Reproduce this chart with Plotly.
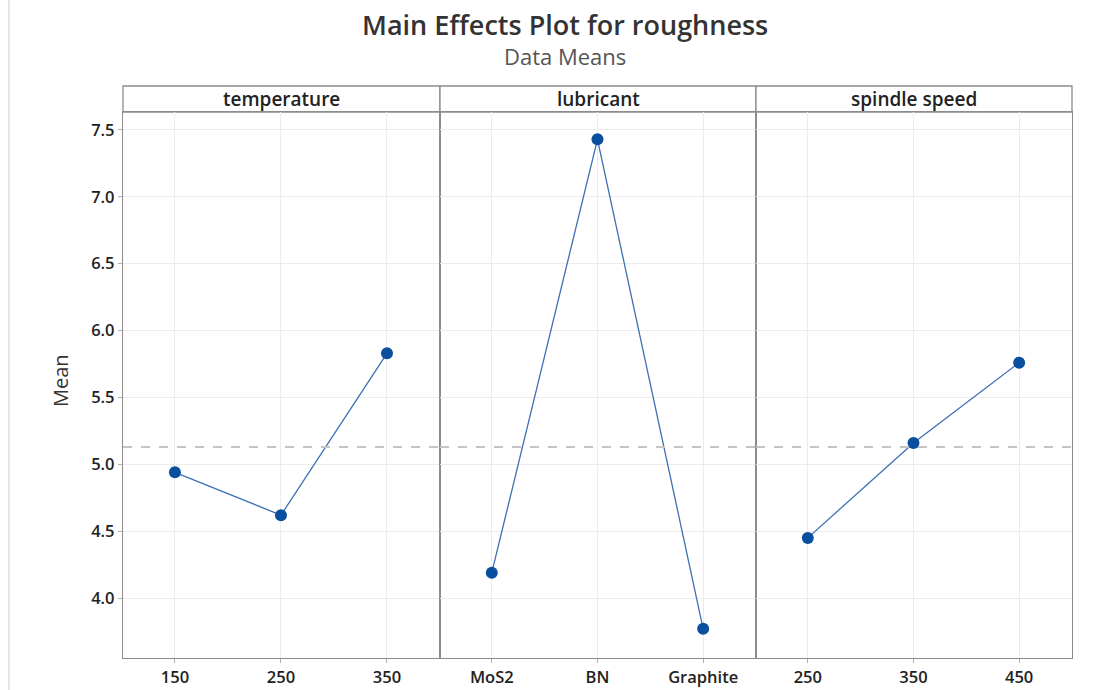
import plotly.graph_objects as go
from plotly.subplots import make_subplots

# ---- data ----
factors = ["temperature", "lubricant", "spindle speed"]
temperature_levels = ["150", "250", "350"]
temperature_means = [4.94, 4.62, 5.83]
lubricant_levels = ["MoS2", "BN", "Graphite"]
lubricant_means = [4.19, 7.43, 3.77]
spindle_levels = ["250", "350", "450"]
spindle_means = [4.45, 5.16, 5.76]
grand_mean = 5.13
y_ticks = [4.0, 4.5, 5.0, 5.5, 6.0, 6.5, 7.0, 7.5]

panels = [
    (temperature_levels, temperature_means),
    (lubricant_levels, lubricant_means),
    (spindle_levels, spindle_means),
]

W, H = 1115, 690
L, R, T, B = 123, 43, 86, 32
pw = W - L - R
ph = H - T - B
header_px = 26
ydom_top = (ph - header_px) / ph

fig = make_subplots(rows=1, cols=3, shared_yaxes=True, horizontal_spacing=0)

bounds = [0, 317 / pw, 633 / pw, 1.0]
font_fam = "Open Sans, Noto Sans, sans-serif"
line_col = "#8c8c8c"
grid_col = "#ececec"

for i, (levels, means) in enumerate(panels):
    xs = list(range(len(levels)))
    fig.add_trace(
        go.Scatter(
            x=xs, y=means, mode="lines+markers",
            line=dict(color="#3d70b4", width=1.3),
            marker=dict(color="#0a4f9e", size=12),
            showlegend=False, hoverinfo="skip",
        ),
        row=1, col=i + 1,
    )
    fig.add_trace(
        go.Scatter(
            x=[-0.49, 2.5], y=[grand_mean, grand_mean], mode="lines",
            line=dict(color="#c4c4c4", width=2, dash="dash"),
            showlegend=False, hoverinfo="skip",
        ),
        row=1, col=i + 1,
    )
    ax = "xaxis" if i == 0 else f"xaxis{i+1}"
    fig.layout[ax].update(
        domain=[bounds[i], bounds[i + 1]],
        range=[-0.49, 2.5],
        tickmode="array", tickvals=xs, ticktext=levels,
        showgrid=True, gridcolor=grid_col, gridwidth=1,
        showline=True, linecolor=line_col, linewidth=1.3, mirror=True,
        ticks="outside", ticklen=4, tickcolor="#b0b0b0",
        tickfont=dict(family=font_fam, size=16.5, color="#222222", weight=600),
        zeroline=False, automargin=False,
    )
    yx = "yaxis" if i == 0 else f"yaxis{i+1}"
    fig.layout[yx].update(
        domain=[0, ydom_top],
        range=[3.552, 7.634],
        tickmode="array", tickvals=y_ticks,
        ticktext=[f"{v:.1f}" for v in y_ticks],
        showgrid=True, gridcolor=grid_col, gridwidth=1,
        showline=True, linecolor=line_col, linewidth=1.3, mirror=True,
        ticks="outside" if i == 0 else "", ticklen=4, tickcolor="#b0b0b0",
        tickfont=dict(family=font_fam, size=16.5, color="#222222", weight=600),
        zeroline=False, automargin=False,
    )
    # header strip
    fig.add_shape(
        type="rect", xref="paper", yref="paper",
        x0=bounds[i], x1=bounds[i + 1], y0=ydom_top, y1=1.0,
        line=dict(color=line_col, width=1.3), fillcolor="white", layer="below",
    )
    fig.add_annotation(
        xref="paper", yref="paper",
        x=(bounds[i] + bounds[i + 1]) / 2, y=(ydom_top + 1) / 2,
        text=factors[i], showarrow=False, xanchor="center", yanchor="middle",
        font=dict(family=font_fam, size=19, color="#222222", weight=600),
    )

# titles (positions in px from top of figure)
def paper_y(px_from_top):
    return (H - B - px_from_top) / ph

fig.add_annotation(
    xref="paper", yref="paper", x=(565 - L) / pw, y=paper_y(24),
    text="Main Effects Plot for roughness", showarrow=False,
    xanchor="center", yanchor="middle",
    font=dict(family=font_fam, size=27, color="#333333", weight=600),
)
fig.add_annotation(
    xref="paper", yref="paper", x=(565 - L) / pw, y=paper_y(56),
    text="Data Means", showarrow=False, xanchor="center", yanchor="middle",
    font=dict(family=font_fam, size=22, color="#555555"),
)
fig.add_annotation(
    xref="paper", yref="paper", x=(60 - L) / pw, y=paper_y(381),
    text="Mean", showarrow=False, textangle=-90, xanchor="center", yanchor="middle",
    font=dict(family=font_fam, size=20, color="#333333"),
)
# faint left page edge line
fig.add_shape(
    type="line", xref="paper", yref="paper",
    x0=(9 - L) / pw, x1=(9 - L) / pw, y0=-B / ph, y1=(H - B) / ph,
    line=dict(color="#dcdcdc", width=1.5),
)

fig.update_layout(
    width=W, height=H,
    margin=dict(l=L, r=R, t=T, b=B, autoexpand=False),
    paper_bgcolor="white", plot_bgcolor="white",
)

fig.write_html(
    "out.html",
    config={"displayModeBar": False},
    post_script="document.body.style.margin='0';document.body.style.overflow='hidden';",
)
